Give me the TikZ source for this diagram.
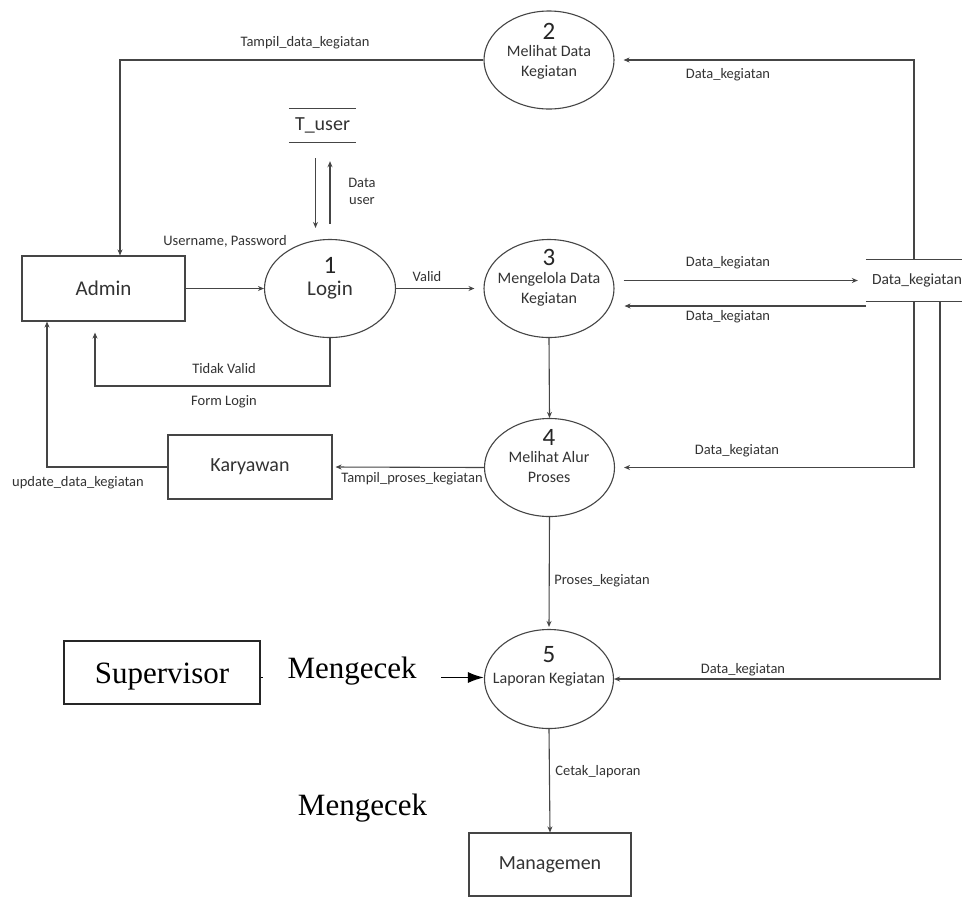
\documentclass[tikz,border=0pt]{standalone}
\usepackage{fontspec}
\setmainfont{Carlito}
\newfontfamily\serifx{Liberation Serif}
\usetikzlibrary{shapes.geometric,arrows.meta}
\definecolor{linec}{HTML}{454545}
\definecolor{textc}{HTML}{333333}
\tikzset{
  proc/.style={ellipse, draw=linec, line width=1.1pt, minimum width=130pt, minimum height=98pt, inner sep=0pt},
  ent/.style={rectangle, draw=linec, line width=1.1pt, inner sep=0pt, text=textc, font=\fontsize{20}{24}\selectfont},
  lbl/.style={inner sep=0pt, text=textc, align=center, font=\fontsize{14.5}{17}\selectfont},
  ptxt/.style={inner sep=0pt, text=textc, align=center, font=\fontsize{16}{20}\selectfont},
  pnum/.style={inner sep=0pt, text=black!85, font=\fontsize{25}{25}\selectfont},
  flow/.style={draw=linec, line width=1.1pt, -{Stealth[length=6pt,width=5pt]}},
  storeline/.style={draw=linec, line width=1.3pt}
}
\begin{document}
\begin{tikzpicture}[x=1pt,y=-1pt]
\useasboundingbox[fill=white] (0,0) rectangle (966,898);

% entities
\node[ent, minimum width=163pt, minimum height=65pt, font=\fontsize{21}{24}\selectfont] (admin) at (103.5,288.5) {Admin};
\node[ent, minimum width=164pt, minimum height=64pt] (kary) at (250,467) {Karyawan};
\node[ent, minimum width=162pt, minimum height=63pt] (manag) at (550,864.5) {Managemen};
\node[rectangle, draw=black!85, line width=1.1pt, inner sep=0pt, minimum width=196pt, minimum height=63pt, text height=21pt, text depth=0pt, font=\serifx\fontsize{31}{34}\selectfont] (sup) at (162,672.5) {Supervisor};

% processes
\node[proc, minimum width=131pt] (p1) at (330,288.5) {};
\node[pnum] (n1) at (330,265) {1};
\node[inner sep=0pt, text=textc, font=\fontsize{21}{24}\selectfont] (t1) at (330,290) {Login};

\node[proc] (p2) at (549,60) {};
\node[pnum] (n2) at (549,31) {2};
\node[ptxt] (t2) at (549,62) {Melihat Data\\Kegiatan};

\node[proc] (p3) at (549,288.5) {};
\node[pnum] (n3) at (549,257) {3};
\node[ptxt] (t3) at (549,289) {Mengelola Data\\Kegiatan};

\node[proc] (p4) at (549.5,467.5) {};
\node[pnum] (n4) at (549,437) {4};
\node[ptxt] (t4) at (549,467) {Melihat Alur\\Proses};

\node[proc, minimum width=129pt, minimum height=99pt] (p5) at (549,679) {};
\node[pnum] (n5) at (549,655) {5};
\node[ptxt] (t5) at (549,679) {Laporan Kegiatan};

% data stores
\node[inner sep=0pt, minimum width=67pt, minimum height=33pt, text=textc, font=\fontsize{20}{24}\selectfont] (tuser) at (322.5,125.5) {T\_user};
\draw[storeline] (tuser.north west) -- (tuser.north east);
\draw[storeline] (tuser.south west) -- (tuser.south east);

\node[inner sep=0pt, minimum width=82pt, minimum height=41pt, text=textc, font=\fontsize{15.5}{18}\selectfont] (store) at (914,280.5) {\hspace*{6pt}Data\_kegiatan};
\draw[storeline] (store.north west) -- (store.north east);
\draw[storeline] (store.south west) -- (store.south east);

% flows
\draw[flow] (p2.west) -| ([xshift=16.5pt]admin.north);
\draw[flow, shorten >=9pt] (store.north) |- (p2.east);

\draw[flow, shorten <=16pt, shorten >=11pt] ([xshift=-7pt]tuser.south) -- ([xshift=-7pt]tuser.south |- p1.north);
\draw[flow, shorten <=15pt, shorten >=19pt] (p1.north) -- (tuser.south -| p1.north);

\draw[flow] (admin.east) -- (p1.west);
\coordinate (tv) at (95,386);
\draw[flow, shorten >=11pt] (p1.south) |- (tv) -- (tv |- admin.south);
\draw[flow, shorten >=9pt] (p1.east) -- (p3.west);

\draw[flow, shorten <=9pt, shorten >=8pt] (p3.east |- store.west) -- (store.west);
\coordinate (s3) at (866,306);
\draw[flow, shorten >=10pt] (s3) -- (s3 -| p3.east);

\draw[flow, shorten >=9pt] (store.south) |- (p4.east);
\draw[flow] ([xshift=26pt]store.south) |- (p5.east);

\draw[flow] (p3.south) -- (p4.north);
\draw[flow, shorten >=3pt] (p4.west) -- (kary.east);
\draw[flow] (kary.west) -| ([xshift=-56.5pt]admin.south);
\draw[flow, shorten >=2pt] (p4.south) -- (p5.north);
\draw[flow] (p5.south) -- (manag.north);

\draw[draw=black, line width=1.6pt, -{Latex[length=16pt,width=11pt]}] ([yshift=-5pt]sup.east) -- ([yshift=-5pt]sup.east -| p5.west)
  node[pos=0.41, yshift=6.5pt, fill=white, inner sep=0pt, minimum width=178pt, minimum height=44pt, text=black, font=\serifx\fontsize{31}{34}\selectfont] (mg1) {Mengecek};

\node[inner sep=0pt, text=black, font=\serifx\fontsize{31}{34}\selectfont] (mg2) at (362.5,808) {Mengecek};

% labels
\node[lbl] (l1) at (305,43) {Tampil\_data\_kegiatan};
\node[lbl] (l2) at (728,75) {Data\_kegiatan};
\node[lbl] (l3) at (362,191) {Data\\user};
\node[lbl] (l4) at (225,241) {Username, Password};
\node[lbl] (l5) at (427,277) {Valid};
\node[lbl] (l6) at (224,369) {Tidak Valid};
\node[lbl] (l7) at (224,402) {Form Login};
\node[lbl] (l8) at (728,263) {Data\_kegiatan};
\node[lbl] (l9) at (728,317) {Data\_kegiatan};
\node[lbl] (l10) at (737,451) {Data\_kegiatan};
\node[lbl] (l11) at (78,483) {update\_data\_kegiatan};
\node[lbl] (l12) at (412,479) {Tampil\_proses\_kegiatan};
\node[lbl] (l13) at (602,581) {Proses\_kegiatan};
\node[lbl] (l14) at (743,670) {Data\_kegiatan};
\node[lbl] (l15) at (598,772) {Cetak\_laporan};
\end{tikzpicture}
\end{document}
